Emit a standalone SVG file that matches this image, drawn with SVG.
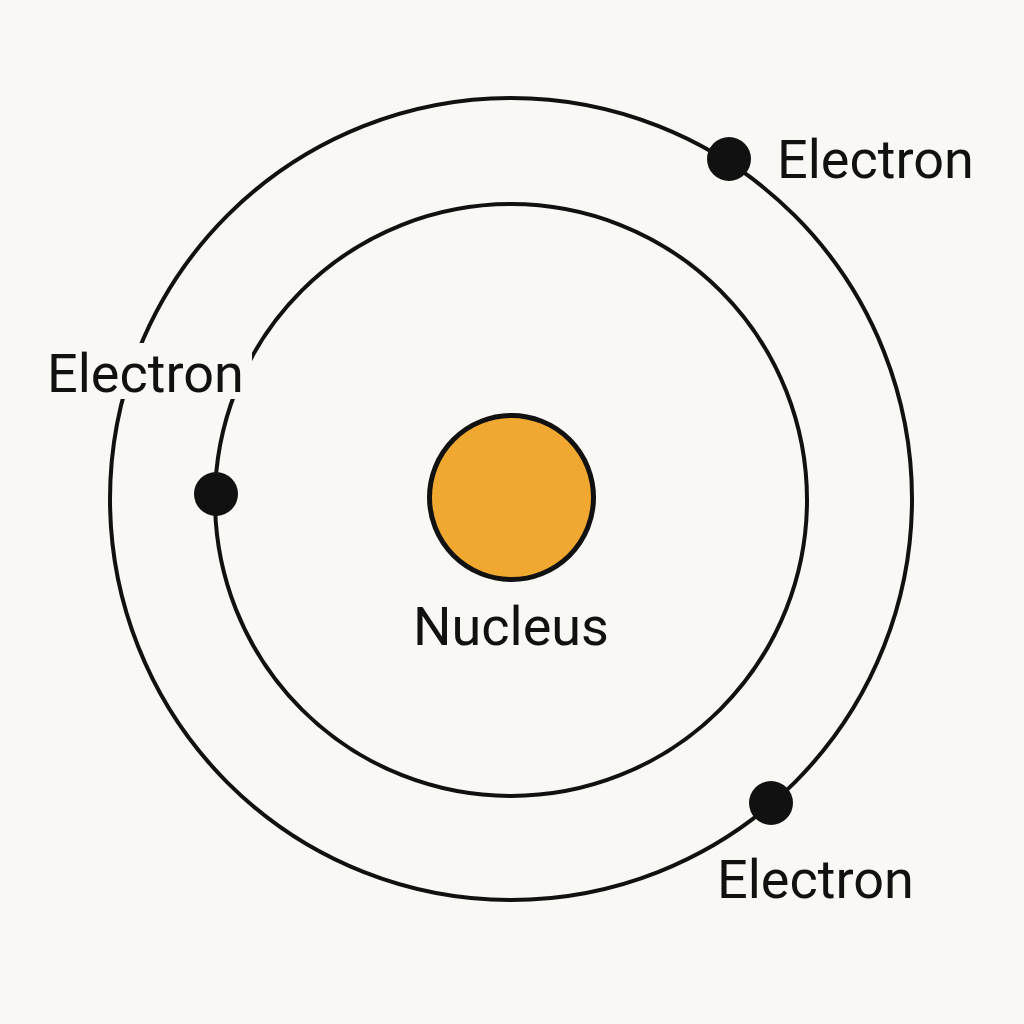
<svg xmlns="http://www.w3.org/2000/svg" width="1024" height="1024" viewBox="0 0 1024 1024">
<style>
.orbit{fill:none;stroke:#111;stroke-width:4}
.electron{fill:#111}
.label{font-family:Roboto,"Liberation Sans",sans-serif;font-size:54px;fill:#111}
</style>
<rect width="1024" height="1024" fill="#FAF8F5"/>
<g id="orbits">
<circle id="outer-orbit" class="orbit" cx="511" cy="499" r="401"/>
<circle id="inner-orbit" class="orbit" cx="511" cy="500" r="296"/>
</g>
<g id="nucleus">
<circle cx="511.5" cy="497.5" r="82" fill="#F0A830" stroke="#111" stroke-width="5"/>
<text class="label" x="511" y="645" text-anchor="middle">Nucleus</text>
</g>
<g id="electron-top">
<circle class="electron" cx="729" cy="159" r="22"/>
<text class="label" x="777" y="178">Electron</text>
</g>
<g id="electron-left">
<rect x="40" y="343" width="212" height="56" fill="#FAF8F5"/>
<circle class="electron" cx="216" cy="494" r="22"/>
<text class="label" x="47" y="392">Electron</text>
</g>
<g id="electron-bottom">
<circle class="electron" cx="771" cy="803" r="22"/>
<text class="label" x="717" y="898">Electron</text>
</g>
</svg>
